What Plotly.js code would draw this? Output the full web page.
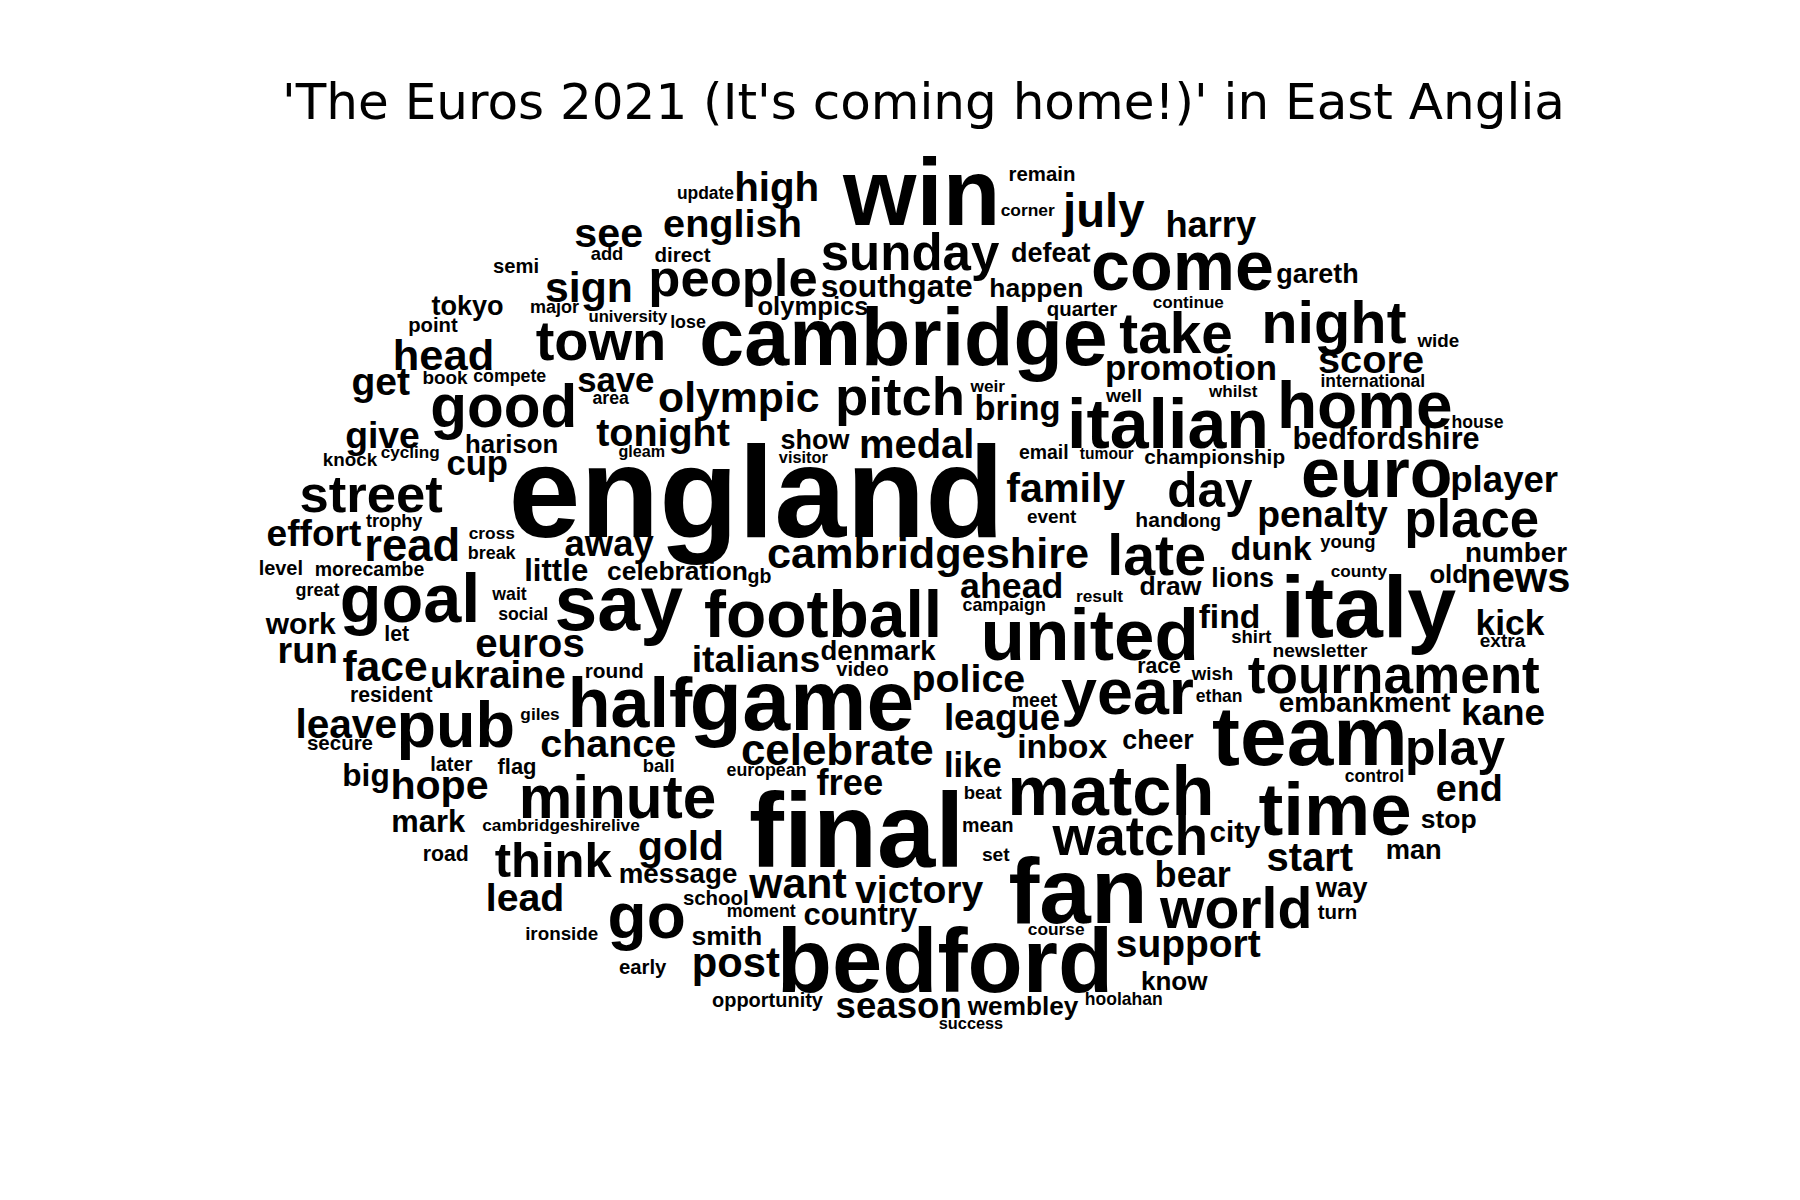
<!DOCTYPE html>
<html>
<head>
<meta charset="utf-8">
<script src="https://cdn.plot.ly/plotly-3.0.1.min.js"></script>
<style>
  html, body { margin: 0; padding: 0; background: #fff; }
  #wordcloud { width: 1800px; height: 1200px; }
</style>
</head>
<body>
<div id="wordcloud"></div>
<script>
// =============================================================================
// Word cloud of "The Euros 2021" coverage in East Anglia.
//
// Each word: its ink centre (x), its baseline
// (y) and its ink width, all in figure pixels. The font size of a word is
// derived from the measured width at run time, so the words land where the
// picture has them.
// =============================================================================

const words = [
  'update', 'high', 'win', 'remain', 'corner', 'july', 'harry', 'see', 'english', 'add',
  'direct', 'semi', 'sunday', 'defeat', 'come', 'gareth', 'sign', 'people', 'southgate', 'happen',
  'tokyo', 'major', 'university', 'lose', 'olympics', 'quarter', 'continue', 'point', 'town', 'cambridge',
  'take', 'night', 'wide', 'head', 'score', 'promotion', 'international', 'get', 'book', 'compete',
  'save', 'area', 'olympic', 'pitch', 'weir', 'well', 'whilst', 'home', 'good', 'bring',
  'italian', 'house', 'give', 'cycling', 'harison', 'tonight', 'show', 'medal', 'bedfordshire', 'knock',
  'gleam', 'visitor', 'email', 'tumour', 'championship', 'cup', 'england', 'euro', 'player', 'street',
  'family', 'day', 'trophy', 'effort', 'cross', 'hand', 'long', 'event', 'penalty', 'place',
  'read', 'break', 'away', 'cambridgeshire', 'late', 'dunk', 'young', 'level', 'morecambe', 'little',
  'celebration', 'gb', 'county', 'old', 'number', 'lions', 'news', 'great', 'wait', 'goal',
  'say', 'football', 'ahead', 'result', 'draw', 'italy', 'social', 'campaign', 'work', 'let',
  'find', 'kick', 'united', 'shirt', 'extra', 'run', 'euros', 'denmark', 'newsletter', 'face',
  'ukraine', 'round', 'italians', 'video', 'race', 'wish', 'tournament', 'police', 'resident', 'half',
  'game', 'meet', 'ethan', 'embankment', 'year', 'leave', 'pub', 'giles', 'league', 'team',
  'kane', 'secure', 'chance', 'celebrate', 'inbox', 'cheer', 'play', 'big', 'later', 'flag',
  'ball', 'european', 'like', 'control', 'hope', 'minute', 'free', 'match', 'end', 'beat',
  'mark', 'cambridgeshirelive', 'final', 'mean', 'time', 'stop', 'watch', 'city', 'road', 'think',
  'gold', 'set', 'start', 'man', 'message', 'want', 'victory', 'fan', 'bear', 'way',
  'school', 'lead', 'moment', 'country', 'world', 'turn', 'go', 'ironside', 'smith', 'course',
  'support', 'early', 'post', 'bedford', 'know', 'opportunity', 'season', 'wembley', 'hoolahan', 'success'
];

const word_x = [
  705.5, 776.7, 921.7, 1042, 1027.7, 1103.8, 1210.8, 608.7, 732.5, 607,
  682.5, 516, 910, 1050.8, 1182.5, 1317.5, 589, 733, 896.7, 1036.3,
  467.5, 554.5, 627.8, 688, 813, 1082, 1188.3, 433, 601, 903.5,
  1176, 1333.8, 1438.3, 443.5, 1371, 1191, 1372.8, 380.7, 445, 509.7,
  615.8, 610.7, 738.8, 900, 987.8, 1124, 1233.2, 1364.7, 503.7, 1017.5,
  1168, 1477.5, 382.5, 410.3, 511.7, 663, 815, 916.7, 1386, 350,
  641.8, 803.3, 1043.8, 1106.7, 1214.7, 477.2, 756.3, 1376.7, 1504.2, 371.2,
  1065.8, 1210, 394.2, 314, 491.8, 1160.5, 1202, 1051.7, 1322.5, 1471.7,
  412.3, 491.7, 609.2, 928, 1156.7, 1271, 1348, 280.8, 369.5, 556.2,
  677.5, 759.5, 1358.8, 1448.7, 1516, 1242.7, 1518.3, 317.5, 509.5, 410,
  618.8, 823, 1011.7, 1099.5, 1170.5, 1368.3, 523.2, 1004.2, 300.8, 396.7,
  1229.5, 1510, 1089.7, 1251.3, 1502.5, 307.8, 530, 878, 1320, 385,
  497.8, 614.2, 756, 862.5, 1159, 1212.5, 1393.8, 968.3, 391.2, 630,
  802, 1034.5, 1219.2, 1364.7, 1127.5, 346.2, 455.8, 540, 1002, 1310,
  1503, 340, 608.3, 837.3, 1062.2, 1158, 1455, 366, 451.3, 517,
  658.7, 766.5, 972.8, 1374.5, 439.5, 617.5, 849.8, 1110.8, 1469.3, 982.7,
  428.3, 561, 856.7, 987.8, 1335, 1448.7, 1130.3, 1235, 445.7, 553.3,
  681, 995.8, 1309.8, 1413.7, 678, 798, 919.2, 1078, 1192.7, 1341.7,
  715.8, 525, 761.2, 860.3, 1236.2, 1337.5, 646.7, 561.7, 726.8, 1056.2,
  1188.3, 642.7, 735.8, 945, 1174.2, 767.5, 898.7, 1023, 1123.8, 971
];

const word_baseline = [
  199, 200.7, 225, 180.7, 215.7, 226.7, 237.3, 246.7, 237, 260,
  261.7, 272.7, 270, 261.7, 290, 283.3, 301.7, 296.5, 296.7, 296.7,
  315, 313.3, 321.7, 328.3, 315, 315.7, 308.3, 331.7, 360, 365,
  353.3, 343.3, 346.7, 370, 372.7, 380, 386.7, 395, 384.3, 382.3,
  392.3, 404, 412, 415, 391.7, 401.7, 397.3, 428.3, 426.7, 420,
  448, 428.3, 448, 458.3, 453, 446, 449, 458, 449, 466,
  456.7, 463.3, 459, 459, 464, 475, 536.7, 496.7, 491.7, 511.7,
  501.7, 506.7, 527.3, 546, 539, 527, 527, 522.7, 527.3, 536.7,
  560.7, 559, 555.7, 568.3, 575, 560, 548.3, 575, 575.7, 581,
  580, 582.7, 576.7, 583.3, 561.7, 586.7, 591.7, 595.7, 600, 621.7,
  630, 636.7, 598.3, 601.7, 595, 636.7, 620, 610.7, 634, 640.7,
  628.3, 635, 660, 643.3, 647.3, 663.3, 656.7, 660, 656.7, 680.7,
  688.3, 678.3, 671.7, 676, 673.3, 680, 693.3, 691.7, 701.7, 726.7,
  730, 706.7, 701.7, 711.7, 714, 738.3, 747, 720, 730, 765,
  725, 750, 756.7, 765, 758.3, 749, 765, 785.7, 770.7, 774,
  771.7, 776, 776.7, 781.7, 799, 818.3, 795, 815, 800.7, 799.3,
  831.7, 831, 866.7, 831.7, 835, 828.3, 855, 841.7, 860.7, 877.3,
  860, 860.7, 870.7, 859.3, 882.7, 898.3, 903.3, 923.3, 887.3, 896.7,
  905, 910.7, 917.3, 925, 928.3, 919, 938.3, 940, 945, 935,
  957.3, 974.3, 976.7, 991.7, 990, 1006.7, 1018.3, 1015, 1005, 1029.3
];

const word_width = [
  55.6, 80, 152, 64.3, 53.3, 82.3, 88.3, 66, 135, 31,
  55, 44, 176.7, 78.3, 178.3, 79.7, 83.7, 164.3, 150, 90.7,
  71, 47.7, 77.7, 34, 109.3, 69.3, 70, 48, 126.7, 403,
  111, 141, 41.3, 95.7, 103.3, 167.7, 102.3, 56.7, 44, 72,
  75, 36, 159, 123.3, 34.3, 35, 48.3, 169.3, 140.7, 81.7,
  193.3, 50.3, 72, 57.3, 90, 133, 68, 110, 184.3, 53.3,
  45, 48.7, 47.7, 53.3, 139.3, 59, 482.7, 146.7, 105, 141,
  118.3, 83.3, 56.3, 93.3, 45, 47.6, 35.7, 48.7, 128.3, 130,
  90, 46.7, 88.3, 319.3, 93.3, 80, 54, 41.7, 107.7, 61,
  138.4, 22.3, 55.7, 36, 100, 60, 100, 43, 34.3, 133.3,
  125.7, 232.7, 100, 45.7, 61, 170, 48.3, 81.7, 70.3, 23.3,
  59, 66.7, 209.3, 39.3, 45, 55.7, 106.7, 114, 93.3, 83.3,
  132.3, 56.3, 125, 51.7, 41.7, 40.3, 291, 110, 81, 120,
  218.7, 44.3, 45, 170.7, 131.7, 97.7, 111.7, 38, 112.7, 190,
  80.7, 64.7, 133.3, 190, 87.7, 70, 96.7, 43.3, 40.7, 37.3,
  29.3, 78.3, 54.3, 57.7, 94.3, 191.6, 65, 198.3, 63.3, 36.7,
  72, 156.7, 206.7, 49, 150, 54, 152.7, 50, 43.3, 116.7,
  81.7, 27, 85, 52.7, 116, 97.3, 128.3, 132, 73.3, 52,
  63.7, 73.3, 67.7, 112.7, 149, 38.3, 73.3, 71.3, 68.3, 55.7,
  143.3, 46.7, 85, 324.7, 65, 110.3, 122.7, 110.7, 75.7, 63.3
];

const chart_title = "'The Euros 2021 (It's coming home!)' in East Anglia";

const WORD_FONT = 'Liberation Sans';
const FIG_W = 1800;
const FIG_H = 1200;

// Ink width of a word at 1px font size, measured in the same face Plotly draws.
const measure_ctx = document.createElement('canvas').getContext('2d');
function inkWidthPerPx(word) {
  measure_ctx.font = `bold 200px "${WORD_FONT}"`;
  const m = measure_ctx.measureText(word);
  const ink = (m.actualBoundingBoxLeft || 0) + (m.actualBoundingBoxRight || m.width);
  return ink / 200;
}

const sizes = words.map(function (w, i) {
  return word_width[i] / inkWidthPerPx(w);
});
// Plotly sets a 'middle' text baseline 0.25em below the point.
const point_y = word_baseline.map(function (b, i) {
  return b - 0.25 * sizes[i];
});

const trace = {
  x: word_x,
  y: point_y,
  text: words,
  mode: 'text',
  type: 'scatter',
  textposition: 'middle center',
  textfont: {
    family: WORD_FONT,
    weight: 700,
    size: sizes,
    color: '#000000'
  },
  hoverinfo: 'text',
  cliponaxis: false,
  showlegend: false
};

const layout = {
  width: FIG_W,
  height: FIG_H,
  margin: { l: 0, r: 0, t: 0, b: 0, pad: 0 },
  paper_bgcolor: '#ffffff',
  plot_bgcolor: '#ffffff',
  title: {
    text: chart_title,
    font: { family: 'DejaVu Sans', size: 50, color: '#000000' },
    xref: 'paper',
    x: 923.5 / FIG_W,
    xanchor: 'center',
    yref: 'container',
    y: 1 - (114 - 0.25 * 50) / FIG_H,
    yanchor: 'middle'
  },
  xaxis: { range: [0, FIG_W], visible: false, fixedrange: true },
  yaxis: { range: [FIG_H, 0], visible: false, fixedrange: true },
  hovermode: 'closest'
};

Plotly.newPlot('wordcloud', [trace], layout, {
  displayModeBar: false,
  displaylogo: false,
  staticPlot: true
});
</script>
</body>
</html>
